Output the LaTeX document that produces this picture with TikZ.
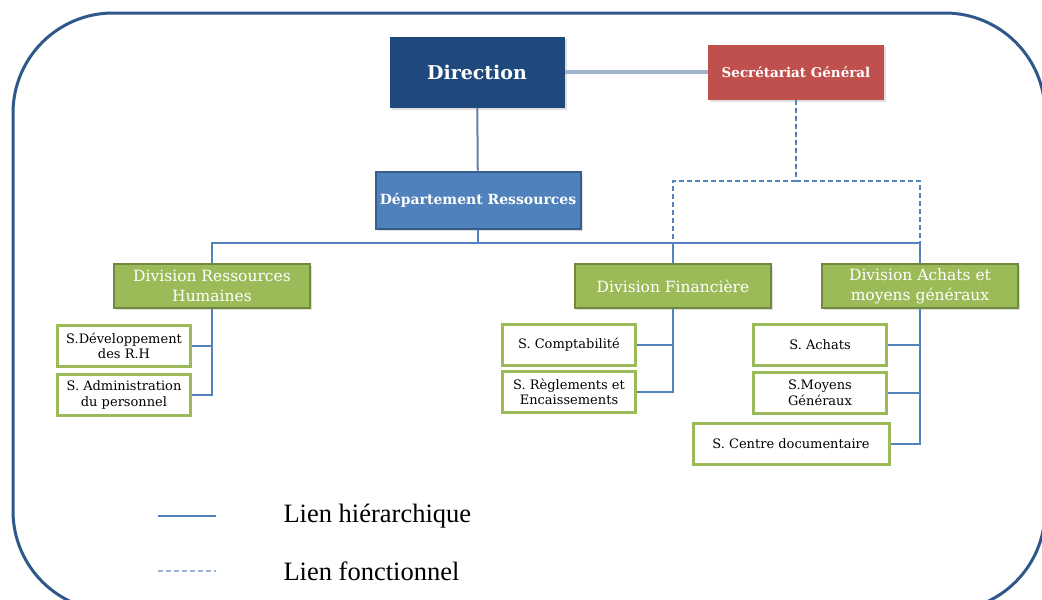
\documentclass[tikz,border=0pt]{standalone}
\usepackage{fontspec}
\setmainfont{DejaVu Serif}
\newfontfamily\legendfont{Liberation Serif}
\usepackage{tikz}
\usetikzlibrary{shadows}
\definecolor{navy}{RGB}{31,73,125}
\definecolor{brick}{RGB}{192,80,77}
\definecolor{steel}{RGB}{79,129,189}
\definecolor{steeldark}{RGB}{56,93,138}
\definecolor{olive}{RGB}{155,187,89}
\definecolor{olivedark}{RGB}{113,137,63}
\definecolor{linkblue}{RGB}{84,130,190}
\definecolor{linkgrey}{RGB}{160,180,208}
\definecolor{frameblue}{RGB}{47,88,138}

\begin{document}
\begin{tikzpicture}[x=1pt,y=-1pt,
    box/.style={rectangle, align=center, inner sep=1pt,
      drop shadow={opacity=0.25, shadow xshift=2pt, shadow yshift=-2pt}},
    topbox/.style={box, text=white, font=\bfseries\fontsize{#1}{#1}\selectfont},
    division/.style={box, fill=olive, draw=olivedark, line width=2.5pt, text=white,
      font=\fontsize{15.5}{20}\selectfont, minimum width=196pt, minimum height=44pt},
    service/.style={rectangle, align=center, fill=white, draw=olive, line width=3pt,
      font=\fontsize{13}{15.5}\selectfont, minimum width=133pt, minimum height=41pt, inner sep=1pt},
    hier/.style={linkblue, line width=1.5pt},
    fonc/.style={linkblue, line width=1.2pt, dash pattern=on 5pt off 3pt}]
  \useasboundingbox (0,0) rectangle (1042,600);
  % frame
  \draw[frameblue, line width=3pt, rounded corners=100pt] (13,13) rectangle (1045,611);

  % top of the chart
  \node[topbox=19, fill=navy, minimum width=175pt, minimum height=71pt] (dir) at (477,72) {Direction};
  \node[topbox=13.5, fill=brick, minimum width=176pt, minimum height=55pt] (secgen) at (796,72) {Secrétariat Général};
  \node[topbox=14, fill=steel, draw=steeldark, line width=2pt, minimum width=205pt, minimum height=57pt]
    (deptres) at (478,200) {Département Ressources};

  % divisions
  \node[division] (divrh) at (212,286) {Division Ressources\\Humaines};
  \node[division] (divfin) at (673,286) {Division Financière};
  \node[division] (divach) at (920,286) {Division Achats et\\moyens généraux};

  % services
  \node[service] (sdevrh) at (124,346) {S.Développement\\des R.H};
  \node[service] (sadmin) at (124,395) {S. Administration\\du personnel};
  \node[service] (scompta) at (569,345) {S. Comptabilité};
  \node[service] (sreglt) at (569,392) {S. Règlements et\\Encaissements};
  \node[service] (sachats) at (820,345) {S. Achats};
  \node[service] (smoyens) at (820,393) {S.Moyens\\Généraux};
  \node[service, minimum width=196pt] (scentre) at (791,444) {S. Centre documentaire};

  % links
  \coordinate (bus) at (478,243);
  \coordinate (fbus) at (796,181);
  \draw[linkgrey, line width=3.5pt] (dir) -- (secgen);
  \draw[linkblue!60!gray, line width=2pt] (dir) -- (deptres);
  \draw[hier] (deptres) -- (bus);
  \foreach \d in {divrh,divfin,divach}
    \draw[hier] (bus) -| (\d.north);
  \draw[fonc] (secgen) -- (fbus);
  \foreach \d in {divfin,divach}
    \draw[fonc] (fbus) -| (\d.north);
  \foreach \s in {sdevrh,sadmin}
    \draw[hier] (divrh.south) |- (\s.east);
  \foreach \s in {scompta,sreglt}
    \draw[hier] (divfin.south) |- (\s.east);
  \foreach \s in {sachats,smoyens,scentre}
    \draw[hier] (divach.south) |- (\s.east);

  % legend
  \coordinate (hiera) at (158,516);
  \coordinate (hierb) at (216,516);
  \coordinate (fonca) at (158,571);
  \coordinate (foncb) at (216,571);
  \draw[hier] (hiera) -- (hierb);
  \draw[fonc, linkgrey] (fonca) -- (foncb);
  \node[anchor=west, font=\legendfont\fontsize{26.5}{26.5}\selectfont] (lienhier) at (280,516) {Lien hiérarchique};
  \node[anchor=west, font=\legendfont\fontsize{26.5}{26.5}\selectfont] (lienfonc) at (280,571) {Lien fonctionnel};
\end{tikzpicture}
\end{document}
